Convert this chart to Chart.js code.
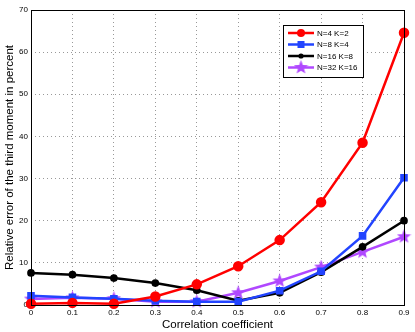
<!DOCTYPE html>
<html>
<head>
<meta charset="utf-8">
<script src="https://cdn.jsdelivr.net/npm/chart.js@4.4.1/dist/chart.umd.min.js"></script>
<style>
  html, body { margin: 0; padding: 0; background: #fff; }
  #wrap { width: 415px; height: 332px; }
</style>
</head>
<body>
<div id="wrap"><canvas id="chart" width="415" height="332"></canvas></div>
<script>
const xValues = [0, 0.1, 0.2, 0.3, 0.4, 0.5, 0.6, 0.7, 0.8, 0.9];
const seriesLabels = ['N=4 K=2', 'N=8 K=4', 'N=16 K=8', 'N=32 K=16'];
const red = [0.3, 0.5, 0.3, 2.0, 4.9, 9.2, 15.4, 24.4, 38.5, 64.6];
const blue = [2.2, 1.8, 1.5, 1.0, 0.8, 0.8, 3.4, 8.0, 16.4, 30.2];
const black = [7.6, 7.2, 6.4, 5.2, 3.5, 1.0, 2.9, 7.8, 13.8, 20.0];
const purple = [1.4, 1.7, 1.5, 0.8, 0.8, 2.9, 5.7, 9.0, 12.6, 16.2];
const yTicks = [0, 10, 20, 30, 40, 50, 60, 70];

function starImage(size, color) {
  const c = document.createElement('canvas');
  c.width = size; c.height = size;
  const g = c.getContext('2d');
  const cx = size / 2, cy = size / 2, R = size / 2, r = R * 0.42;
  g.beginPath();
  for (let i = 0; i < 10; i++) {
    const a = -Math.PI / 2 + i * Math.PI / 5;
    const rr = i % 2 ? r : R;
    g.lineTo(cx + rr * Math.cos(a), cy + rr * Math.sin(a));
  }
  g.closePath();
  g.fillStyle = color;
  g.fill();
  return c;
}

const PURPLE = '#b048ff';
const star = starImage(15, PURPLE);

function pts(arr) {
  return arr.map((v, i) => ({ x: xValues[i], y: v }));
}

const frame = {
  id: 'frame',
  afterDraw(chart) {
    const { ctx, chartArea: a } = chart;
    ctx.save();
    ctx.strokeStyle = '#000';
    ctx.lineWidth = 1;
    ctx.strokeRect(a.left + 0.5, a.top + 0.5, a.right - a.left, a.bottom - a.top);

    // legend box
    const x0 = 283, y0 = 25, w = 80, h = 52;
    ctx.fillStyle = '#fff';
    ctx.fillRect(x0, y0, w, h);
    ctx.strokeRect(x0 + 0.5, y0 + 0.5, w, h);
    ctx.font = '8px Arial, "Liberation Sans", sans-serif';
    ctx.textBaseline = 'middle';
    chart.data.datasets.forEach((ds, i) => {
      const yy = y0 + 8 + i * 11.5;
      ctx.strokeStyle = ds.borderColor;
      ctx.lineWidth = 2.5;
      ctx.beginPath();
      ctx.moveTo(x0 + 5, yy);
      ctx.lineTo(x0 + 31, yy);
      ctx.stroke();
      const mx = x0 + 18;
      if (ds.pointStyle === 'circle') {
        ctx.fillStyle = ds.borderColor;
        ctx.beginPath();
        ctx.arc(mx, yy, ds.pointRadius, 0, Math.PI * 2);
        ctx.fill();
      } else if (ds.pointStyle === 'rect') {
        ctx.fillStyle = ds.borderColor;
        ctx.fillRect(mx - 3.5, yy - 3.5, 7, 7);
      } else {
        ctx.drawImage(star, mx - 7.5, yy - 7.5);
      }
      ctx.fillStyle = '#000';
      ctx.fillText(ds.label, x0 + 34, yy + 0.5);
    });
    ctx.restore();
  }
};

new Chart(document.getElementById('chart'), {
  type: 'line',
  data: {
    datasets: [
      {
        label: seriesLabels[0], data: pts(red),
        borderColor: '#ff0000', backgroundColor: '#ff0000',
        borderWidth: 2.5, pointStyle: 'circle', pointRadius: 4
      },
      {
        label: seriesLabels[1], data: pts(blue),
        borderColor: '#2244ff', backgroundColor: '#2244ff',
        borderWidth: 2.5, pointStyle: 'rect', pointRadius: 3.6
      },
      {
        label: seriesLabels[2], data: pts(black),
        borderColor: '#000000', backgroundColor: '#000000',
        borderWidth: 2.5, pointStyle: 'circle', pointRadius: 2.6
      },
      {
        label: seriesLabels[3], data: pts(purple),
        borderColor: PURPLE, backgroundColor: PURPLE,
        borderWidth: 2.5, pointStyle: star, pointRadius: 7
      }
    ]
  },
  options: {
    responsive: false,
    animation: false,
    clip: false,
    layout: { padding: { top: 10, right: 11, left: 3, bottom: 0 } },
    plugins: { legend: { display: false }, tooltip: { enabled: false } },
    scales: {
      x: {
        type: 'linear', min: 0, max: 0.9,
        afterBuildTicks: s => { s.ticks = xValues.map(v => ({ value: v })); },
        afterFit: s => { s.height = 27; },
        grid: { color: '#999999', tickLength: 0, drawTicks: false },
        border: { display: false, dash: [1, 3] },
        ticks: {
          color: '#000', padding: 3, maxRotation: 0,
          font: { size: 8, family: 'Arial, "Liberation Sans", sans-serif' },
          callback: v => String(Math.round(v * 10) / 10)
        },
        title: {
          display: true, text: 'Correlation coefficient', color: '#000',
          padding: { top: 0, bottom: 0 },
          font: { size: 11.5, family: 'Arial, "Liberation Sans", sans-serif' }
        }
      },
      y: {
        min: 0, max: 70,
        afterBuildTicks: s => { s.ticks = yTicks.map(v => ({ value: v })); },
        afterFit: s => { s.width = 28; },
        grid: { color: '#999999', drawTicks: false },
        border: { display: false, dash: [1, 3] },
        ticks: {
          color: '#000', padding: 3,
          font: { size: 8, family: 'Arial, "Liberation Sans", sans-serif' }
        },
        title: {
          display: true, text: 'Relative error of the third moment in percent', color: '#000',
          padding: { top: 0, bottom: 0 },
          font: { size: 11.5, family: 'Arial, "Liberation Sans", sans-serif' }
        }
      }
    }
  },
  plugins: [frame]
});
</script>
</body>
</html>
